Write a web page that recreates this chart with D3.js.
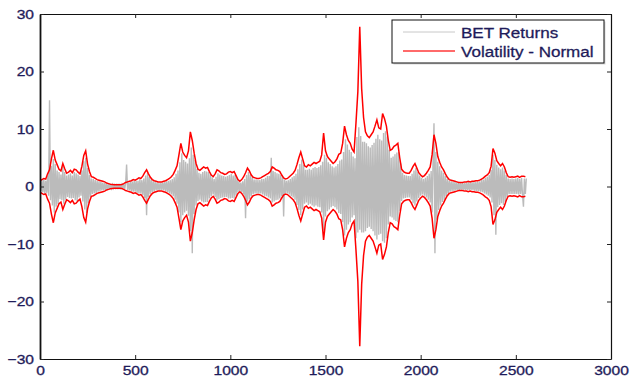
<!DOCTYPE html>
<html>
<head>
<meta charset="utf-8">
<script src="https://cdn.jsdelivr.net/npm/d3@7"></script>
<style>
  body { margin: 0; background: #fff; }
  svg text { font-family: "Liberation Sans", Arial, sans-serif; }
</style>
</head>
<body>
<div id="chart"></div>
<script>
// returns are read every 5 observations, volatility every 10
const returnStep = 5;
const volStep = 10;

// BET returns
const returns = [
  0.9,-0.8,1.1,-1.0,1.2,-1.3,1.0,-1.1,1.9,-1.6,15.0,-2.4,3.6,-3.3,4.8,-4.5,3.9,-3.5,2.8,-3.1,
  2.5,-2.2,2.1,-2.4,3.4,-3.0,2.5,-2.3,1.9,-1.8,2.1,-2.0,2.3,-2.1,1.9,-2.0,2.5,-2.4,2.3,-2.5,
  2.1,-1.9,1.8,-1.6,2.8,-2.6,4.4,-4.0,5.0,-4.6,3.2,-2.9,2.0,-1.9,1.4,-1.3,1.3,-1.2,1.1,-1.2,
  1.0,-0.9,0.9,-0.8,0.8,-0.7,0.7,-0.7,0.6,-0.6,0.5,-0.45,0.4,-0.4,0.35,-0.3,0.3,-0.28,0.25,-0.25,
  0.25,-0.25,0.25,-0.25,0.25,-0.25,0.3,-0.3,0.4,-0.4,0.6,3.8,-0.6,0.7,-0.7,0.8,-0.8,0.85,-0.9,1.0,
  -0.9,1.0,-1.1,1.0,-1.2,1.3,-1.2,1.1,-1.5,1.4,-2.0,1.9,-5.0,2.4,-1.8,1.7,-1.3,1.2,-1.0,0.9,
  -0.8,0.8,-0.7,0.7,-0.7,0.6,-0.7,0.7,-0.6,0.7,-0.7,0.8,-0.8,0.9,-1.0,1.0,-1.2,1.1,-1.4,1.3,
  -1.7,1.6,-2.3,2.2,-3.0,2.8,-4.5,4.2,-6.2,5.8,-5.0,4.6,-4.5,4.3,-4.2,4.0,-5.1,4.9,-7.8,6.8,
  -11.6,5.5,-4.8,4.6,-3.3,3.1,-2.5,2.4,-2.3,2.2,-2.6,2.5,-2.8,2.7,-2.7,2.6,-2.7,2.5,-2.1,2.2,
  -1.7,1.6,-1.4,1.3,-1.8,1.7,-2.4,2.3,-2.2,2.1,-2.0,1.9,-1.9,1.8,-1.8,1.7,-1.8,1.8,-2.1,2.0,
  -2.1,2.2,-2.0,1.9,-2.1,2.0,-1.6,1.5,-1.0,0.9,-0.8,0.7,-1.0,0.9,-1.4,1.3,-5.5,2.0,-2.6,2.5,
  -2.2,2.1,-1.7,1.6,-1.3,1.2,-1.2,1.2,-1.2,1.1,-1.2,1.1,-1.2,1.3,-1.4,1.3,-1.6,1.5,-1.7,1.8,
  -1.9,1.8,-2.1,5.0,-2.8,2.7,-2.6,2.5,-2.4,2.3,-2.3,2.2,-2.1,2.0,-1.7,1.6,-5.2,1.2,-1.1,1.0,
  -1.2,1.1,-1.4,1.3,-1.7,1.6,-1.9,1.8,-2.3,2.2,-3.2,3.0,-4.1,3.9,-5.0,4.7,-4.0,3.8,-3.0,2.9,
  -2.8,2.9,-3.2,3.1,-3.0,2.9,-3.3,3.2,-3.5,3.4,-3.3,3.2,-3.5,3.4,-3.6,3.7,-4.5,4.3,-7.6,5.5,
  -5.2,5.0,-4.3,4.2,-4.0,3.9,-3.6,3.5,-3.4,3.3,-3.6,3.5,-4.0,3.9,-4.6,4.5,-4.8,4.7,-6.2,6.0,
  -8.5,8.2,-7.5,7.3,-6.6,6.4,-6.2,6.0,-5.4,5.2,-5.0,4.9,-9.0,8.6,-8.0,10.3,-7.5,8.8,-8.0,7.8,
  -8.0,7.8,-7.8,7.5,-7.2,7.0,-7.0,6.8,-7.4,7.2,-7.8,7.6,-8.5,8.3,-9.2,9.0,-8.4,8.2,-8.2,8.0,
  -9.5,9.3,-9.8,9.6,-9.0,8.7,-6.6,6.4,-5.2,5.0,-5.4,5.2,-5.8,5.6,-6.0,5.9,-6.2,6.0,-4.2,4.0,
  -2.5,2.4,-2.1,2.0,-2.0,1.9,-1.9,1.8,-1.9,1.8,-2.3,2.2,-2.9,2.8,-3.3,3.2,-2.6,2.5,-2.0,1.9,
  -1.6,1.5,-1.4,1.3,-1.6,1.5,-1.9,1.8,-2.3,2.2,-2.8,2.7,-4.5,4.3,11.0,-11.6,6.0,-5.8,4.3,-4.1,
  3.5,-3.3,2.8,-2.7,2.4,-2.3,1.8,-1.7,1.3,-1.2,1.0,-0.9,0.9,-0.8,0.8,-0.75,0.75,-0.7,0.7,-0.65,
  0.6,-0.6,0.6,-0.55,0.6,-0.6,0.65,-0.6,0.65,-0.65,0.75,-0.7,0.7,-0.65,0.75,-0.7,0.75,-0.75,0.8,-0.8,
  0.85,-0.8,0.9,-0.9,1.1,-1.0,1.2,-1.2,1.5,-1.4,1.7,-1.6,2.0,-1.9,2.9,-2.8,5.5,-5.0,4.6,-8.4,
  3.8,-3.6,3.3,-3.2,3.0,-2.9,3.3,-3.2,2.8,-2.7,2.0,-1.9,1.4,-1.3,1.3,-1.3,1.4,-1.3,1.3,-1.3,
  1.4,-1.3,1.5,-1.4,1.3,-1.3,1.5,-1.4,-3.5,1.4,-1.3,1.4
];

// upper volatility band (normal), the lower band is its mirror
const volatility = [
  1.0,1.2,1.4,1.3,2.2,2.9,4.8,6.3,4.6,3.8,
  3.0,2.7,4.0,3.1,2.3,2.5,2.8,2.4,3.0,2.9,
  2.5,2.2,3.5,5.4,6.2,3.9,2.6,1.7,1.6,1.4,
  1.2,1.1,1.0,0.9,0.8,0.6,0.5,0.4,0.35,0.3,
  0.3,0.3,0.3,0.35,0.5,0.7,0.8,0.9,1.0,1.2,
  1.1,1.3,1.5,1.4,1.8,2.4,2.9,2.2,1.6,1.2,
  1.0,0.9,0.8,0.8,0.8,0.9,1.0,1.2,1.4,1.7,
  2.1,2.8,3.6,5.5,7.5,6.0,5.4,5.0,6.2,9.5,
  8.0,5.8,4.0,3.0,2.8,3.1,3.4,3.2,3.3,2.6,
  2.0,1.7,2.2,2.9,2.7,2.4,2.3,2.1,2.2,2.5,
  2.6,2.4,2.6,1.9,1.2,0.9,1.2,1.7,2.4,3.2,
  2.7,2.0,1.6,1.5,1.4,1.4,1.5,1.7,1.9,2.1,
  2.3,2.6,3.4,3.2,2.9,2.8,2.6,2.0,1.5,1.3,
  1.4,1.7,2.0,2.3,2.8,3.8,5.0,6.0,4.8,3.6,
  3.4,3.8,3.6,3.9,4.2,4.0,4.2,4.4,5.5,9.3,
  6.2,5.2,4.8,4.4,4.0,4.3,4.8,5.6,5.8,7.5,
  10.5,9.0,8.0,7.5,6.5,6.0,11.0,16.5,27.8,17.0,
  12.0,9.5,8.8,8.5,9.0,9.5,10.5,11.6,10.2,10.0,
  12.7,11.8,10.5,8.0,6.3,6.5,7.0,7.2,7.5,5.0,
  3.0,2.6,2.4,2.3,2.3,2.8,3.5,4.0,3.2,2.4,
  2.0,1.7,1.9,2.3,2.8,3.4,5.5,9.0,7.5,5.2,
  4.2,3.4,2.9,2.2,1.6,1.2,1.1,1.0,0.9,0.8,
  0.7,0.7,0.7,0.8,0.8,0.9,0.8,0.9,0.9,1.0,
  1.0,1.1,1.3,1.5,1.8,2.0,2.4,3.5,6.6,5.8,
  4.5,4.0,3.6,4.0,3.4,2.4,1.7,1.6,1.7,1.6,
  1.7,1.8,1.6,1.8,1.8,1.7
];

const xTicks = [0, 500, 1000, 1500, 2000, 2500, 3000];
const yTicks = [-30, -20, -10, 0, 10, 20, 30];
const seriesNames = ['BET Returns', 'Volatility - Normal'];

const width = 632;
const height = 381;
const margin = { left: 40, right: 21, top: 14, bottom: 22 };
const textColor = '#1e1b5a';

const x = d3.scaleLinear().domain([0, 3000]).range([margin.left, width - margin.right]);
const y = d3.scaleLinear().domain([-30, 30]).range([height - margin.bottom, margin.top]);

const svg = d3.select('#chart')
  .append('svg')
  .attr('width', width)
  .attr('height', height);

svg.append('clipPath')
  .attr('id', 'plot-clip')
  .append('rect')
  .attr('x', margin.left)
  .attr('y', margin.top)
  .attr('width', width - margin.left - margin.right)
  .attr('height', height - margin.top - margin.bottom);

const plot = svg.append('g').attr('clip-path', 'url(#plot-clip)');

const returnLine = d3.line()
  .x((d, i) => x(i * returnStep))
  .y(d => y(d));

const volLine = d3.line()
  .x((d, i) => x(i * volStep))
  .y(d => y(d));

plot.append('path')
  .datum(returns)
  .attr('fill', 'none')
  .attr('stroke', '#bbbbbb')
  .attr('stroke-width', 1.4)
  .attr('d', returnLine);

plot.append('path')
  .datum(volatility)
  .attr('fill', 'none')
  .attr('stroke', '#ff0000')
  .attr('stroke-width', 1.5)
  .attr('d', volLine);

plot.append('path')
  .datum(volatility.map(v => -v))
  .attr('fill', 'none')
  .attr('stroke', '#ff0000')
  .attr('stroke-width', 1.5)
  .attr('d', volLine);

// axes: ticks point inward on all four sides, like matlab
const fmt = d3.format('d');

const bottomAxis = svg.append('g')
  .attr('transform', `translate(0,${height - margin.bottom})`)
  .call(d3.axisBottom(x).tickValues(xTicks).tickFormat(fmt).tickSizeInner(-4).tickSizeOuter(0).tickPadding(7));

const topAxis = svg.append('g')
  .attr('transform', `translate(0,${margin.top})`)
  .call(d3.axisTop(x).tickValues(xTicks).tickSizeInner(-4).tickSizeOuter(0).tickFormat(''));

const leftAxis = svg.append('g')
  .attr('transform', `translate(${margin.left},0)`)
  .call(d3.axisLeft(y).tickValues(yTicks).tickFormat(fmt).tickSizeInner(-4).tickSizeOuter(0).tickPadding(5));

const rightAxis = svg.append('g')
  .attr('transform', `translate(${width - margin.right},0)`)
  .call(d3.axisRight(y).tickValues(yTicks).tickSizeInner(-4).tickSizeOuter(0).tickFormat(''));

[bottomAxis, topAxis, leftAxis, rightAxis].forEach(g => {
  g.select('.domain').attr('stroke', '#111').attr('stroke-width', 1.2);
  g.selectAll('.tick line').attr('stroke', '#222');
  g.selectAll('.tick text')
    .attr('fill', textColor)
    .attr('stroke', textColor)
    .attr('stroke-width', 0.3)
    .attr('transform', 'scale(1.2,1)')
    .style('font-size', '13px');
});
leftAxis.select('.domain').attr('stroke-width', 1.8);

// legend
const legend = svg.append('g').attr('transform', 'translate(392,20)');

legend.append('rect')
  .attr('x', 1.5)
  .attr('y', 1.5)
  .attr('width', 212)
  .attr('height', 43)
  .attr('fill', '#d8d8d8');

legend.append('rect')
  .attr('width', 212)
  .attr('height', 43)
  .attr('fill', '#fff')
  .attr('stroke', '#111')
  .attr('stroke-width', 1);

const legendColors = ['#c8c8c8', '#ff6a6a'];

const items = legend.selectAll('.legend-item')
  .data(seriesNames)
  .enter().append('g')
  .attr('class', 'legend-item')
  .attr('transform', (d, i) => `translate(0,${12 + i * 19})`);

items.append('line')
  .attr('x1', 11)
  .attr('x2', 63)
  .attr('stroke', (d, i) => legendColors[i])
  .attr('stroke-width', (d, i) => i === 0 ? 1 : 2);

items.append('text')
  .attr('transform', 'translate(69,5.5) scale(1.1,1)')
  .attr('fill', textColor)
  .attr('stroke', textColor)
  .attr('stroke-width', 0.3)
  .style('font-size', '15.5px')
  .text(d => d);
</script>
</body>
</html>
